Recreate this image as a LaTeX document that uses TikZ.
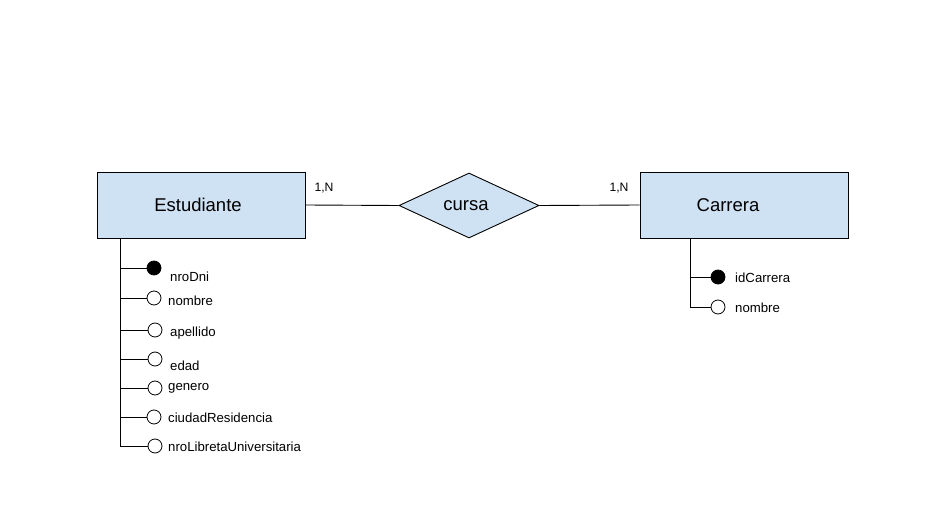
\documentclass[tikz,border=0pt]{standalone}
\usepackage{fontspec}
\setmainfont{Liberation Sans}
\usetikzlibrary{shapes.geometric,calc}
\definecolor{entfill}{HTML}{CFE2F3}
\tikzset{
  entity/.style={draw=black, fill=entfill, line width=0.9pt, minimum width=208pt, minimum height=66pt, inner sep=0pt, font=\fontsize{18.5}{20}\selectfont},
  rel/.style={diamond, draw=black, fill=entfill, line width=0.9pt, minimum width=140pt, minimum height=65pt, inner sep=0pt, font=\fontsize{18.5}{20}\selectfont},
  keyattr/.style={circle, draw=black, fill=black, minimum size=14pt, inner sep=0pt, line width=0.8pt},
  attr/.style={circle, draw=black, fill=white, minimum size=14pt, inner sep=0pt, line width=0.8pt},
  attrlabel/.style={anchor=west, inner sep=0pt, font=\fontsize{13.2}{15}\selectfont},
  cardlabel/.style={inner sep=0pt, font=\fontsize{12.2}{14}\selectfont},
  conn/.style={draw=black, line width=0.9pt}
}
\begin{document}
\begin{tikzpicture}[x=1pt,y=-1pt]
\useasboundingbox (0,0) rectangle (931,529);
\fill[white] (0,0) rectangle (931,529);

\node[entity] (est) at (201,205) {\hspace*{-6pt}\raisebox{-2pt}{Estudiante}};
\node[entity] (car) at (744,205) {\hspace*{-32pt}\raisebox{-2pt}{Carrera}};
\node[rel] (cur) at (469,205.5) {\hspace*{-6pt}\raisebox{-2pt}{cursa}};

\draw[conn] (est.east) -- (cur.west);
\draw[conn] (cur.east) -- (car.west);
\node[cardlabel] (c1) at (324,188) {1,N};
\node[cardlabel] (c2) at (619,188) {1,N};

% Estudiante attributes
\coordinate (e0) at ($(est.south west)+(24,0)$);
\node[keyattr] (a1) at (154,268) {};
\node[attr] (a2) at (154,298) {};
\node[attr] (a3) at (155,330) {};
\node[attr] (a4) at (155,359) {};
\node[attr] (a5) at (155,388) {};
\node[attr] (a6) at (154,417) {};
\node[attr] (a7) at (155,446) {};
\node[attrlabel] (l1) at (170,276.5) {nroDni};
\node[attrlabel] (l2) at (168,300.5) {nombre};
\node[attrlabel] (l3) at (170,333.5) {apellido};
\node[attrlabel] (l4) at (170,365.5) {edad};
\node[attrlabel] (l5) at (168,388.5) {genero};
\node[attrlabel] (l6) at (168,417.5) {ciudadResidencia};
\node[attrlabel] (l7) at (168,446.5) {nroLibretaUniversitaria};

\draw[conn] (e0) |- (a7.west);
\foreach \a in {a1,a2,a3,a4,a5,a6} {
  \draw[conn] (\a.west -| e0) -- (\a.west);
}

% Carrera attributes
\coordinate (k0) at ($(car.south west)+(51,0)$);
\node[keyattr] (b1) at (718,277) {};
\node[attr] (b2) at (718,307) {};
\node[attrlabel] (m1) at (735,277.5) {idCarrera};
\node[attrlabel] (m2) at (735,307.5) {nombre};
\draw[conn] (k0) |- (b2.west);
\draw[conn] (b1.west -| k0) -- (b1.west);
\end{tikzpicture}
\end{document}
